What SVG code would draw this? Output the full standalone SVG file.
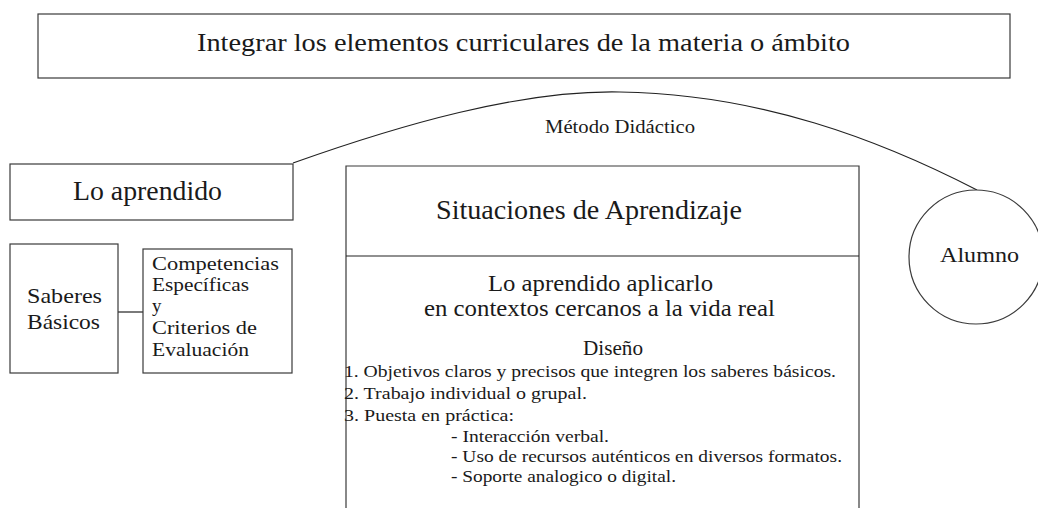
<svg xmlns="http://www.w3.org/2000/svg" width="1038" height="508" viewBox="0 0 1038 508" font-family="'Liberation Serif', 'DejaVu Serif', serif">
<style>
.box{fill:#fff;stroke:#3a3a3a;stroke-width:1.2}
.ln{fill:none;stroke:#222;stroke-width:1.2}
text{font-family:'Liberation Serif','DejaVu Serif',serif;fill:#1a1a1a}
</style>
<rect width="1038" height="508" fill="#fff"/>
<g id="connectors">
<path class="ln" d="M293,163 C400,125 520,90 620,92 C760,94 880,140 977,190"/>
<line class="ln" x1="118" y1="312" x2="143" y2="312"/>
</g>
<g id="top">
<rect class="box" x="38" y="14" width="972" height="64"/>
<text x="197" y="51" font-size="25" textLength="653" lengthAdjust="spacingAndGlyphs">Integrar los elementos curriculares de la materia o ámbito</text>
</g>
<g id="metodo">
<text x="545" y="133" font-size="19" textLength="150" lengthAdjust="spacingAndGlyphs">Método Didáctico</text>
</g>
<g id="lo-aprendido">
<rect class="box" x="10" y="164" width="283" height="56"/>
<text x="73" y="200" font-size="27" textLength="149" lengthAdjust="spacingAndGlyphs">Lo aprendido</text>
</g>
<g id="saberes">
<rect class="box" x="10" y="244" width="108" height="129"/>
<text x="27" y="303" font-size="22" textLength="75" lengthAdjust="spacingAndGlyphs">Saberes</text>
<text x="27" y="329" font-size="22" textLength="73" lengthAdjust="spacingAndGlyphs">Básicos</text>
</g>
<g id="competencias">
<rect class="box" x="143" y="249" width="149" height="124"/>
<text x="152" y="270" font-size="19" textLength="127" lengthAdjust="spacingAndGlyphs">Competencias</text>
<text x="152" y="291" font-size="19" textLength="97" lengthAdjust="spacingAndGlyphs">Específicas</text>
<text x="152" y="312" font-size="19">y</text>
<text x="152" y="334" font-size="19" textLength="105" lengthAdjust="spacingAndGlyphs">Criterios de</text>
<text x="152" y="356" font-size="19" textLength="97" lengthAdjust="spacingAndGlyphs">Evaluación</text>
</g>
<g id="situaciones">
<path class="box" d="M346,512 V166 H859 V512"/>
<line class="ln" x1="346" y1="256" x2="859" y2="256"/>
<text x="436" y="219" font-size="27" textLength="306" lengthAdjust="spacingAndGlyphs">Situaciones de Aprendizaje</text>
<text x="488" y="291" font-size="24" textLength="225" lengthAdjust="spacingAndGlyphs">Lo aprendido aplicarlo</text>
<text x="424" y="316" font-size="24" textLength="351" lengthAdjust="spacingAndGlyphs">en contextos cercanos a la vida real</text>
<text x="583" y="355" font-size="20" textLength="60" lengthAdjust="spacingAndGlyphs">Diseño</text>
<text x="344" y="377" font-size="17" textLength="492" lengthAdjust="spacingAndGlyphs">1. Objetivos claros y precisos que integren los saberes básicos.</text>
<text x="344" y="399" font-size="17" textLength="243" lengthAdjust="spacingAndGlyphs">2. Trabajo individual o grupal.</text>
<text x="344" y="421" font-size="17" textLength="170" lengthAdjust="spacingAndGlyphs">3. Puesta en práctica:</text>
<text x="451" y="442" font-size="17" textLength="158" lengthAdjust="spacingAndGlyphs">- Interacción verbal.</text>
<text x="451" y="462" font-size="17" textLength="391" lengthAdjust="spacingAndGlyphs">- Uso de recursos auténticos en diversos formatos.</text>
<text x="451" y="482" font-size="17" textLength="225" lengthAdjust="spacingAndGlyphs">- Soporte analogico o digital.</text>
</g>
<g id="alumno">
<circle class="box" cx="976" cy="257" r="67"/>
<text x="940" y="262" font-size="21" textLength="79" lengthAdjust="spacingAndGlyphs">Alumno</text>
</g>
</svg>
